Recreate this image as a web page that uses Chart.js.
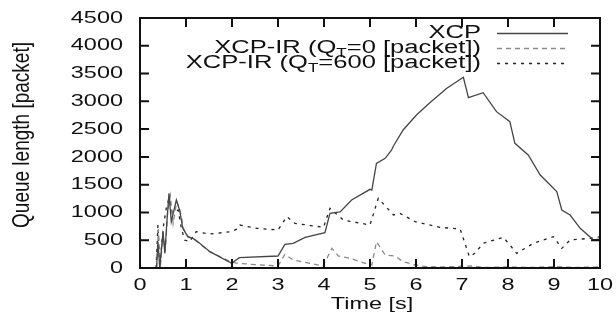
<!DOCTYPE html>
<html>
<head>
<meta charset="utf-8">
<script src="https://cdn.jsdelivr.net/npm/chart.js@4.4.1/dist/chart.umd.min.js"></script>
<style>
	html, body { margin: 0; padding: 0; background: #fff; }
	#wrap { width: 616px; height: 324px; }
</style>
</head>
<body>
<div id="wrap"><canvas id="queue-chart"></canvas></div>
<script>
// tick labels
let xTicks = [0, 1, 2, 3, 4, 5, 6, 7, 8, 9, 10];
let yTicks = [0, 500, 1000, 1500, 2000, 2500, 3000, 3500, 4000, 4500];

let xTitle = "Time [s]";
let yTitle = "Queue length [packet]";
// "_T" marks the subscript T
let seriesNames = ["XCP", "XCP-IR (Q_T=0 [packet])", "XCP-IR (Q_T=600 [packet])"];

// XCP
let xcpTime = [0.36, 0.39, 0.43, 0.5, 0.54, 0.59, 0.63, 0.68, 0.79, 0.86, 0.93, 1.04, 1.15, 1.23, 1.52, 1.99, 2.16, 3.0, 3.15, 3.33, 3.59, 4.02, 4.13, 4.35, 4.6, 5.0, 5.04, 5.14, 5.33, 5.47, 5.51, 5.72, 6.01, 6.3, 6.67, 7.03, 7.14, 7.46, 7.75, 8.04, 8.15, 8.44, 8.7, 9.06, 9.17, 9.35, 9.57, 9.86, 10];
let xcpQueue = [0, 474, 0, 654, 264, 894, 1344, 834, 1224, 1044, 714, 564, 534, 492, 294, 84, 186, 216, 426, 444, 552, 636, 984, 1008, 1224, 1416, 1404, 1884, 1974, 2124, 2196, 2484, 2754, 2976, 3234, 3432, 3066, 3156, 2814, 2634, 2244, 2034, 1674, 1374, 1044, 954, 714, 504, 520];

// XCP-IR, Q_T = 0
let ir0Time = [0.36, 0.4, 0.44, 0.5, 0.55, 0.6, 0.66, 0.72, 0.8, 0.88, 0.95, 1.05, 1.2, 1.5, 2.0, 2.16, 2.5, 3.0, 3.15, 3.33, 3.7, 3.98, 4.17, 4.31, 4.57, 4.96, 5.04, 5.14, 5.33, 5.54, 5.72, 5.98, 6.23, 6.6, 7.2, 7.5, 8.0, 8.5, 9.0, 9.5, 10];
let ir0Queue = [0, 700, 0, 600, 300, 1000, 1300, 800, 1200, 1000, 700, 560, 500, 300, 100, 84, 60, 36, 246, 144, 84, 36, 354, 216, 174, 66, 54, 474, 234, 216, 114, 54, 24, 20, 36, 10, 20, 10, 25, 10, 20];

// XCP-IR, Q_T = 600
let ir600Time = [0.35, 0.39, 0.43, 0.5, 0.57, 0.63, 0.7, 0.83, 0.9, 0.97, 1.08, 1.22, 1.52, 1.99, 2.1, 2.17, 2.54, 3.0, 3.19, 3.37, 3.99, 4.13, 4.42, 5.0, 5.18, 5.51, 5.65, 5.98, 6.52, 6.96, 7.16, 7.28, 7.46, 7.9, 8.04, 8.19, 8.55, 8.99, 9.17, 9.35, 9.78, 10];
let ir600Queue = [0, 774, 0, 700, 1074, 1254, 1000, 1044, 714, 504, 474, 654, 612, 654, 700, 774, 714, 684, 924, 804, 732, 1074, 864, 774, 1254, 954, 984, 834, 732, 702, 204, 264, 444, 552, 414, 264, 444, 564, 354, 504, 534, 560];

let FONT = "'Liberation Sans', Arial, sans-serif";
let STRETCH = 1.38; // the figure's text is wide

function toPoints(ts, qs) {
	return ts.map(function(t, i) { return {x: t, y: qs[i]}; });
}

// text drawn wider than normal, like the picture
function wideText(ctx, text, x, y, align, size, stretch) {
	stretch = stretch || STRETCH;
	ctx.save();
	ctx.font = size + "px " + FONT;
	ctx.textBaseline = "middle";
	ctx.textAlign = "left";
	let w = ctx.measureText(text).width * stretch;
	let x0 = x;
	if (align === "right") x0 = x - w;
	if (align === "center") x0 = x - w / 2;
	ctx.translate(x0, y);
	ctx.scale(stretch, 1);
	ctx.fillText(text, 0, 0);
	ctx.restore();
}

function legendLabel(ctx, name, right, y) {
	let st = 1.42;
	let parts = name.split("_T");
	ctx.save();
	ctx.font = "18px " + FONT;
	let wMain = parts.map(function(p) { return ctx.measureText(p).width; });
	ctx.font = "12px " + FONT;
	let wSub = parts.length > 1 ? ctx.measureText("T").width : 0;
	ctx.restore();
	let total = (wMain.reduce(function(a, b) { return a + b; }, 0) + wSub) * st;
	let x = right - total;
	wideText(ctx, parts[0], x, y, "left", 18, st);
	if (parts.length > 1) {
		x += wMain[0] * st;
		wideText(ctx, "T", x, y + 5, "left", 12, st);
		x += wSub * st;
		wideText(ctx, parts[1], x, y, "left", 18, st);
	}
}

let framePlugin = {
	id: "framePlugin",
	afterDraw: function(chart) {
		let ctx = chart.ctx, a = chart.chartArea;
		let sx = chart.scales.x, sy = chart.scales.y;
		ctx.save();
		ctx.strokeStyle = "#111";
		ctx.lineWidth = 2;
		ctx.strokeRect(a.left, a.top, a.right - a.left, a.bottom - a.top);
		ctx.beginPath();
		xTicks.forEach(function(v) {
			let px = sx.getPixelForValue(v);
			ctx.moveTo(px, a.bottom); ctx.lineTo(px, a.bottom - 9);
			ctx.moveTo(px, a.top); ctx.lineTo(px, a.top + 9);
		});
		yTicks.forEach(function(v) {
			let py = sy.getPixelForValue(v);
			ctx.moveTo(a.left, py); ctx.lineTo(a.left + 9, py);
			ctx.moveTo(a.right, py); ctx.lineTo(a.right - 9, py);
		});
		ctx.stroke();

		ctx.fillStyle = "#111";
		yTicks.forEach(function(v) {
			wideText(ctx, String(v), a.left - 17, sy.getPixelForValue(v), "right", 17);
		});
		xTicks.forEach(function(v) {
			wideText(ctx, String(v), sx.getPixelForValue(v), a.bottom + 17, "center", 17);
		});
		wideText(ctx, xTitle, (a.left + a.right) / 2 + 2, a.bottom + 36, "center", 17);

		// rotated y title
		ctx.save();
		ctx.translate(22, 135);
		ctx.rotate(-Math.PI / 2);
		ctx.scale(1, 1.25);
		ctx.font = "19px " + FONT;
		ctx.textAlign = "center";
		ctx.textBaseline = "middle";
		ctx.fillText(yTitle, 0, 0);
		ctx.restore();

		// legend, top right inside the frame
		chart.data.datasets.forEach(function(ds, i) {
			let y = 33.5 + i * 15;
			legendLabel(ctx, seriesNames[i], 481, y);
			ctx.save();
			ctx.strokeStyle = ds.borderColor;
			ctx.lineWidth = ds.borderWidth;
			ctx.setLineDash(ds.borderDash || []);
			ctx.beginPath();
			ctx.moveTo(497, y); ctx.lineTo(568, y);
			ctx.stroke();
			ctx.restore();
		});
		ctx.restore();
	}
};

function init() {
	new Chart(document.getElementById("queue-chart"), {
		type: "line",
		data: {
			datasets: [{
				label: seriesNames[0],
				data: toPoints(xcpTime, xcpQueue),
				borderColor: "#454545",
				borderWidth: 1.3,
				pointRadius: 0,
				fill: false
			}, {
				label: seriesNames[1],
				data: toPoints(ir0Time, ir0Queue),
				borderColor: "#8a8a8a",
				borderWidth: 1.3,
				borderDash: [5, 4],
				pointRadius: 0,
				fill: false
			}, {
				label: seriesNames[2],
				data: toPoints(ir600Time, ir600Queue),
				borderColor: "#222222",
				borderWidth: 1.3,
				borderDash: [3, 5],
				pointRadius: 0,
				fill: false
			}]
		},
		options: {
			responsive: true,
			maintainAspectRatio: false,
			animation: false,
			layout: { padding: { left: 0, top: 18, right: 16, bottom: 0 } },
			plugins: { legend: { display: false }, tooltip: { enabled: false } },
			scales: {
				x: {
					type: "linear", min: 0, max: 10,
					ticks: { display: false, stepSize: 1 },
					grid: { display: false }, border: { display: false },
					afterFit: function(s) { s.height = 56; }
				},
				y: {
					min: 0, max: 4500,
					ticks: { display: false, stepSize: 500 },
					grid: { display: false }, border: { display: false },
					afterFit: function(s) { s.width = 140; }
				}
			}
		},
		plugins: [framePlugin]
	});
}

init();
</script>
</body>
</html>
